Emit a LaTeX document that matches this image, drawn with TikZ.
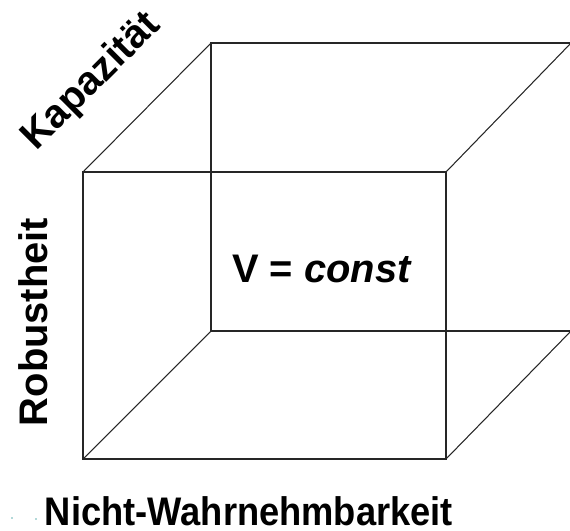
\documentclass[tikz,border=0pt]{standalone}
\usepackage{fontspec}
\setmainfont{Liberation Sans}
\usepackage{tikz}
\usetikzlibrary{calc}

\tikzset{
  achse/.style={font=\fontsize{22.7}{27}\selectfont\bfseries, inner sep=0pt},
  kante/.style={line width=0.6pt, black!85}
}

\begin{document}
\begin{tikzpicture}[x=0.02cm, y=-0.02cm]
  \useasboundingbox (0,0) rectangle (570,530);
  \clip (0,0) rectangle (570,530);

  %front
  \coordinate (FA) at (83.00, 172.00);
  \coordinate (FB) at (446.00, 172.00);
  \coordinate (FC) at (446.00, 459.00);
  \coordinate (FD) at (83.00, 459.00);

  %back
  \coordinate (BA) at (211.00, 43.00);
  \coordinate (BB) at (571.00, 43.00);
  \coordinate (BC) at (571.00, 331.00);
  \coordinate (BD) at (211.00, 331.00);

  \draw[kante] (FA) -- (FB) -- (FC) -- (FD) -- cycle;
  \draw[kante] (BA) -- (BB) -- (BC) -- (BD) -- cycle;
  \draw[kante] (FA) -- (BA);
  \draw[kante] (FB) -- (BB);
  \draw[kante] (FC) -- (BC);
  \draw[kante] (FD) -- (BD);

  %labels
  \node[achse, anchor=base] (volumen) at (322, 282) {V = \textit{const}};
  \node[achse, anchor=base, rotate=90] (robust) at (47, 322) {Robustheit};
  \node[achse, anchor=center, rotate=45] (kapaz) at (92, 82) {Kapazität};
  \node[achse, anchor=base, xscale=0.91] (nichtw) at (249, 525) {Nicht-Wahrnehmbarkeit};

  %dots
  \coordinate (P1) at (12, 518);
  \coordinate (P2) at (36, 519);
  \fill[teal!60] (P1) circle (0.9);
  \fill[teal!60] (P2) circle (0.9);
\end{tikzpicture}
\end{document}
